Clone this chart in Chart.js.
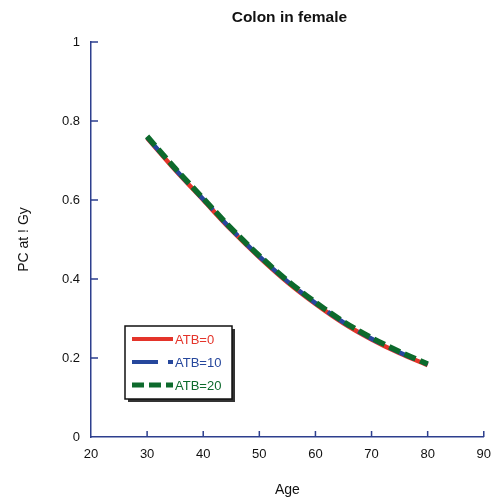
<!DOCTYPE html>
<html>
<head>
<meta charset="utf-8">
<script src="https://cdn.jsdelivr.net/npm/chart.js@4/dist/chart.umd.min.js"></script>
<style>
  html, body { margin: 0; padding: 0; background: #fff; }
  #wrap { width: 501px; height: 504px; }
</style>
</head>
<body>
<div id="wrap"><canvas id="colonChart" width="501" height="504"></canvas></div>
<script>
// values
let chartTitle = "Colon in female";
let ages = [30, 35, 40, 45, 50, 55, 60, 65, 70, 75, 80];
let atb0 = [0.757, 0.676, 0.600, 0.524, 0.455, 0.392, 0.337, 0.288, 0.247, 0.212, 0.182];
let atb10 = [0.759, 0.678, 0.602, 0.526, 0.457, 0.394, 0.339, 0.290, 0.249, 0.214, 0.184];
let atb20 = [0.761, 0.680, 0.604, 0.528, 0.459, 0.396, 0.341, 0.292, 0.251, 0.216, 0.185];
let seriesLabels = ["ATB=0", "ATB=10", "ATB=20"];
let xTicks = [20, 30, 40, 50, 60, 70, 80, 90];
let yTicks = [0, 0.2, 0.4, 0.6, 0.8, 1];

const AXIS_COLOR = "#2d3f8e";
Chart.defaults.font.family = "'Liberation Sans', Arial, sans-serif";
Chart.defaults.color = "#111";

function toPoints(values) {
    return ages.map((age, i) => ({ x: age, y: values[i] }));
}

// ticks drawn on the inside of both axes, like the original
const innerTicks = {
    id: "innerTicks",
    afterDraw(chart) {
        let ctx = chart.ctx;
        let xs = chart.scales.x;
        let ys = chart.scales.y;
        ctx.save();
        ctx.strokeStyle = AXIS_COLOR;
        ctx.lineWidth = 1.5;
        ctx.beginPath();
        xTicks.forEach(v => {
            let px = xs.getPixelForValue(v);
            if (v === xTicks[0]) return;
            ctx.moveTo(px, ys.bottom);
            ctx.lineTo(px, ys.bottom - 6);
        });
        yTicks.forEach(v => {
            let py = ys.getPixelForValue(v);
            if (v === yTicks[0]) return;
            ctx.moveTo(xs.left, py);
            ctx.lineTo(xs.left + 7, py);
        });
        ctx.stroke();
        ctx.restore();
    }
};

// title centred over the plot, boxed legend inside the plot
const titleAndLegend = {
    id: "titleAndLegend",
    afterDraw(chart) {
        let ctx = chart.ctx;
        let area = chart.chartArea;
        ctx.save();
        ctx.fillStyle = "#111";
        ctx.font = "bold 15.5px 'Liberation Sans', Arial, sans-serif";
        ctx.textAlign = "center";
        ctx.textBaseline = "middle";
        ctx.fillText(chartTitle, (area.left + area.right) / 2 + 2, 18);

        // legend box with drop shadow
        let bx = 125, by = 326, bw = 107, bh = 73;
        ctx.fillStyle = "#333";
        ctx.fillRect(bx + 3, by + 3, bw, bh);
        ctx.fillStyle = "#fff";
        ctx.fillRect(bx, by, bw, bh);
        ctx.strokeStyle = "#111";
        ctx.lineWidth = 1.5;
        ctx.strokeRect(bx, by, bw, bh);

        ctx.font = "13px 'Liberation Sans', Arial, sans-serif";
        ctx.textAlign = "left";
        chart.data.datasets.forEach((ds, i) => {
            let ly = by + 13 + i * 23;
            ctx.strokeStyle = ds.borderColor;
            ctx.lineWidth = ds.borderWidth - 0.5;
            ctx.setLineDash(ds.borderDash || []);
            ctx.beginPath();
            ctx.moveTo(bx + 7, ly);
            ctx.lineTo(bx + 48, ly);
            ctx.stroke();
            ctx.setLineDash([]);
            ctx.fillStyle = ds.borderColor;
            ctx.fillText(ds.label, bx + 50, ly + 1);
        });
        ctx.restore();
    }
};

let ctx = document.getElementById("colonChart").getContext("2d");
let myChart = new Chart(ctx, {
    type: "line",
    data: {
        datasets: [
            {
                label: seriesLabels[0],
                data: toPoints(atb0),
                borderColor: "#e4342a",
                borderWidth: 4.5,
                order: 2
            },
            {
                label: seriesLabels[1],
                data: toPoints(atb10),
                borderColor: "#26479c",
                borderWidth: 4.5,
                borderDash: [26, 10],
                order: 1
            },
            {
                label: seriesLabels[2],
                data: toPoints(atb20),
                borderColor: "#0d6a2c",
                borderWidth: 5.5,
                borderDash: [12, 5],
                order: 0
            }
        ]
    },
    options: {
        responsive: false,
        animation: false,
        cubicInterpolationMode: "monotone",
        pointRadius: 0,
        layout: { padding: { top: 42, right: 15, bottom: 0, left: 0 } },
        plugins: {
            legend: { display: false },
            title: { display: false },
            tooltip: { enabled: false }
        },
        scales: {
            x: {
                type: "linear",
                min: 20,
                max: 90,
                afterBuildTicks: scale => { scale.ticks = xTicks.map(v => ({ value: v })); },
                afterFit: scale => { scale.height = 67; },
                grid: { display: false, drawTicks: false },
                border: { display: true, color: AXIS_COLOR, width: 1.5 },
                ticks: { padding: 10, font: { size: 13 }, color: "#111", maxRotation: 0 },
                title: { display: true, text: "Age", font: { size: 14 }, color: "#111", padding: { top: 0, bottom: 5 } }
            },
            y: {
                min: 0,
                max: 1,
                afterBuildTicks: scale => { scale.ticks = yTicks.map(v => ({ value: v })); },
                afterFit: scale => { scale.width = 91; },
                grid: { display: false, drawTicks: false },
                border: { display: true, color: AXIS_COLOR, width: 1.5 },
                ticks: {
                    padding: 11,
                    font: { size: 13 },
                    color: "#111",
                    callback: v => String(+v.toFixed(1))
                },
                title: { display: true, text: "PC at ! Gy", font: { size: 14 }, color: "#111", padding: { top: 16, bottom: 0 } }
            }
        }
    },
    plugins: [innerTicks, titleAndLegend]
});
</script>
</body>
</html>
